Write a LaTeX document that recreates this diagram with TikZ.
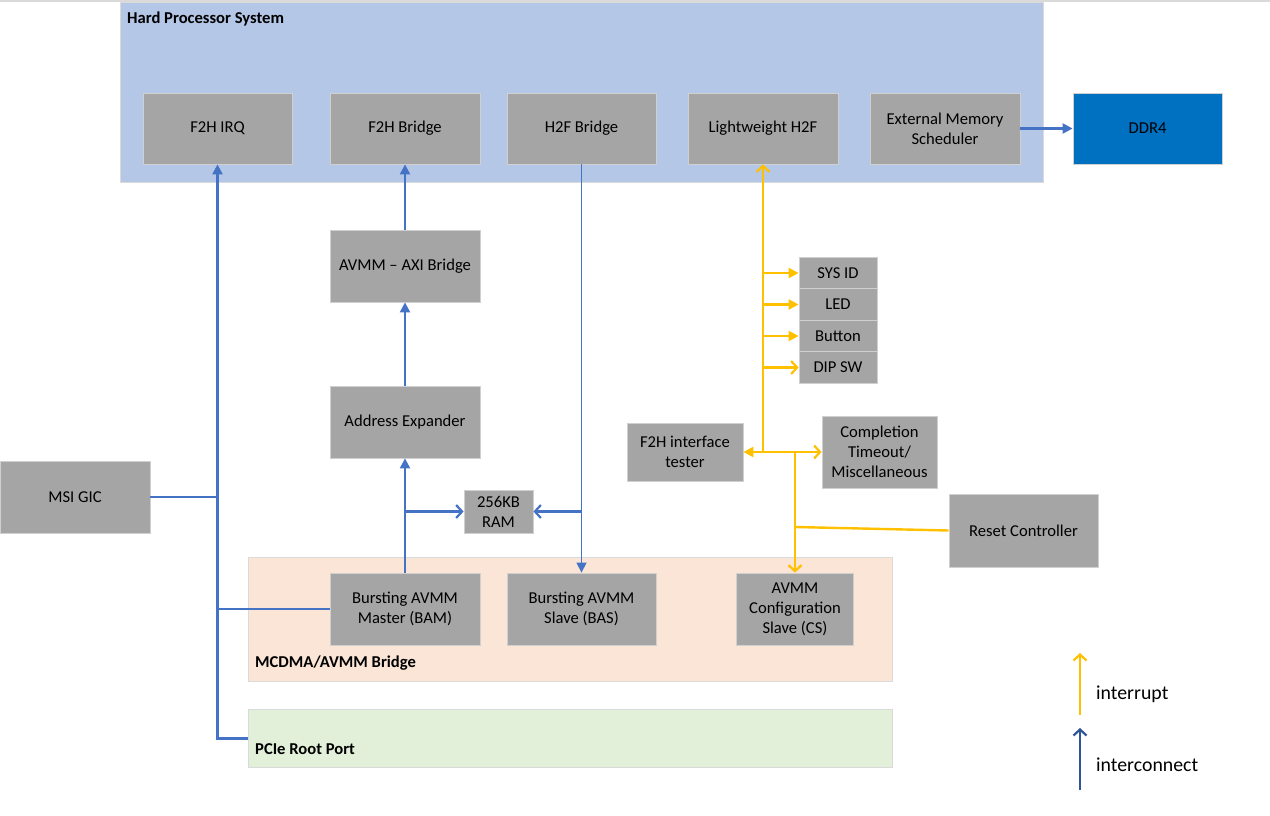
\documentclass[tikz,border=0pt]{standalone}
\usepackage{fontspec}
\setmainfont{Carlito}
\usetikzlibrary{arrows.meta}
\definecolor{boxgray}{HTML}{A5A5A5}
\definecolor{boxborder}{HTML}{D0D0D0}
\definecolor{hpsblue}{HTML}{B4C7E7}
\definecolor{ddrblue}{HTML}{0070C0}
\definecolor{mcdmafill}{HTML}{FBE5D6}
\definecolor{pciefill}{HTML}{E2F0D9}
\definecolor{regborder}{HTML}{DADADA}
\definecolor{lineblue}{HTML}{4472C4}
\definecolor{legblue}{HTML}{2F5597}
\definecolor{lineyellow}{HTML}{FFC000}
\tikzset{
  gbox/.style={fill=boxgray, draw=boxborder, line width=0.8pt, align=center, inner sep=0pt, text=black},
  region/.style={draw=regborder, line width=1pt, inner sep=0pt},
  bl/.style={draw=lineblue, line width=2.2pt},
  blthin/.style={draw=lineblue, line width=1.3pt},
  yl/.style={draw=lineyellow, line width=2.4pt},
  tri/.tip={Triangle[length=10pt,width=10pt]},
  barb/.tip={Straight Barb[length=6pt,width=13pt,line width=2.2pt]},
  lbl/.style={font=\fontsize{16.6}{20}\selectfont\bfseries, anchor=west, inner sep=0pt},
  legtext/.style={font=\fontsize{19.8}{24}\selectfont, anchor=west, inner sep=0pt}
}
\begin{document}
\begin{tikzpicture}[x=1pt, y=-1pt, font=\fontsize{16.6}{20}\selectfont]
\useasboundingbox (0,0) rectangle (1270,816);
\draw[draw=regborder, line width=1.5pt] (0,1) -- (1270,1);
% regions
\node[region, fill=hpsblue, minimum width=923, minimum height=180, anchor=north west] (hps) at (120,2) {};
\node[lbl] (hpslbl) at (127,19) {Hard Processor System};
\node[region, fill=mcdmafill, minimum width=644, minimum height=124, anchor=north west] (mcdma) at (248,557) {};
\node[region, fill=pciefill, minimum width=644, minimum height=58, anchor=north west] (pcie) at (248,709) {};
\node[lbl] (mcdmalbl) at (255,663) {MCDMA/AVMM Bridge};
\node[lbl] (pcielbl) at (255,749) {PCIe Root Port};
% HPS boxes
\node[gbox, minimum width=149, minimum height=71] (irq) at (217.5,128.5) {F2H IRQ};
\node[gbox, minimum width=150, minimum height=71] (f2hb) at (405,128.5) {F2H Bridge};
\node[gbox, minimum width=149, minimum height=71] (h2fb) at (581.5,128.5) {H2F Bridge};
\node[gbox, minimum width=150, minimum height=71] (lwh2f) at (763,128.5) {Lightweight H2F};
\node[gbox, minimum width=150, minimum height=71] (ems) at (945,128.5) {External Memory\\Scheduler};
\node[gbox, fill=ddrblue, draw=boxborder, minimum width=149, minimum height=71] (ddr4) at (1147.5,128.5) {DDR4};
% middle
\node[gbox, minimum width=150, minimum height=72] (axi) at (405,266) {AVMM -- AXI Bridge};
\node[gbox, minimum width=150, minimum height=72] (addr) at (405,422) {Address Expander};
\node[gbox, minimum width=150, minimum height=72] (msi) at (75,497) {MSI GIC};
\node[gbox, minimum width=69, minimum height=43] (ram) at (498.5,511.5) {256KB\\RAM};
\node[gbox, minimum width=150, minimum height=72] (bam) at (405,609) {Bursting AVMM\\Master (BAM)};
\node[gbox, minimum width=149, minimum height=72] (bas) at (581.5,609) {Bursting AVMM\\Slave (BAS)};
\node[gbox, minimum width=117, minimum height=72] (cs) at (795,609) {AVMM\\Configuration\\Slave (CS)};
% peripherals
\node[gbox, minimum width=78, minimum height=31.5] (sysid) at (838,273) {SYS ID};
\node[gbox, minimum width=78, minimum height=31.5] (led) at (838,304.5) {LED};
\node[gbox, minimum width=78, minimum height=31.5] (btn) at (838,336) {Button};
\node[gbox, minimum width=78, minimum height=31.5] (dip) at (838,367.5) {DIP SW};
\node[gbox, minimum width=116, minimum height=58] (f2ht) at (685,452) {F2H interface\\tester};
\node[gbox, minimum width=115, minimum height=72] (cto) at (879.5,452) {Completion\\Timeout/\\Miscellaneous};
\node[gbox, minimum width=149, minimum height=73] (rst) at (1023.5,530.5) {Reset Controller};
% blue connectors
\draw[bl, -tri] (pcie.west) -| (irq.south);
\draw[bl] (msi.east) -- (msi.east -| irq.south);
\draw[bl] (bam.west) -- (bam.west -| irq.south);
\draw[bl, -tri] (bam.north) -- (addr.south);
\draw[bl, -tri] (addr.north) -- (axi.south);
\draw[bl, -tri] (axi.north) -- (f2hb.south);
\draw[bl, -barb] (bam.north |- ram.west) -- (ram.west);
\draw[blthin, -tri] (h2fb.south) -- (bas.north);
\draw[bl, -barb] (h2fb.south |- ram.east) -- (ram.east);
\draw[bl, -tri] (ems.east) -- (ddr4.west);
% yellow connectors
\coordinate (yj) at (763,452);
\coordinate (yk) at (795,452);
\coordinate (yr) at (795,527);
\draw[yl, barb-] (lwh2f.south) -- (yj);
\draw[yl, -tri] (sysid.west -| yj) -- (sysid.west);
\draw[yl, -tri] (led.west -| yj) -- (led.west);
\draw[yl, -tri] (btn.west -| yj) -- (btn.west);
\draw[yl, -barb] (dip.west -| yj) -- (dip.west);
\draw[yl, -tri] (yj) -- (f2ht.east);
\draw[yl, -barb] (yj) -- (cto.west);
\draw[yl, -barb] (yk) -- (cs.north);
\draw[yl] (yr) -- (rst.west);
% legend
\coordinate (l1a) at (1080,715);
\coordinate (l1b) at (1080,653);
\coordinate (l2a) at (1080,790);
\coordinate (l2b) at (1080,728);
\draw[yl, -barb] (l1a) -- (l1b);
\draw[draw=legblue, line width=2.2pt, -barb] (l2a) -- (l2b);
\node[legtext] (lint) at (1096,694) {interrupt};
\node[legtext] (lcon) at (1096,765) {interconnect};
\end{tikzpicture}
\end{document}
